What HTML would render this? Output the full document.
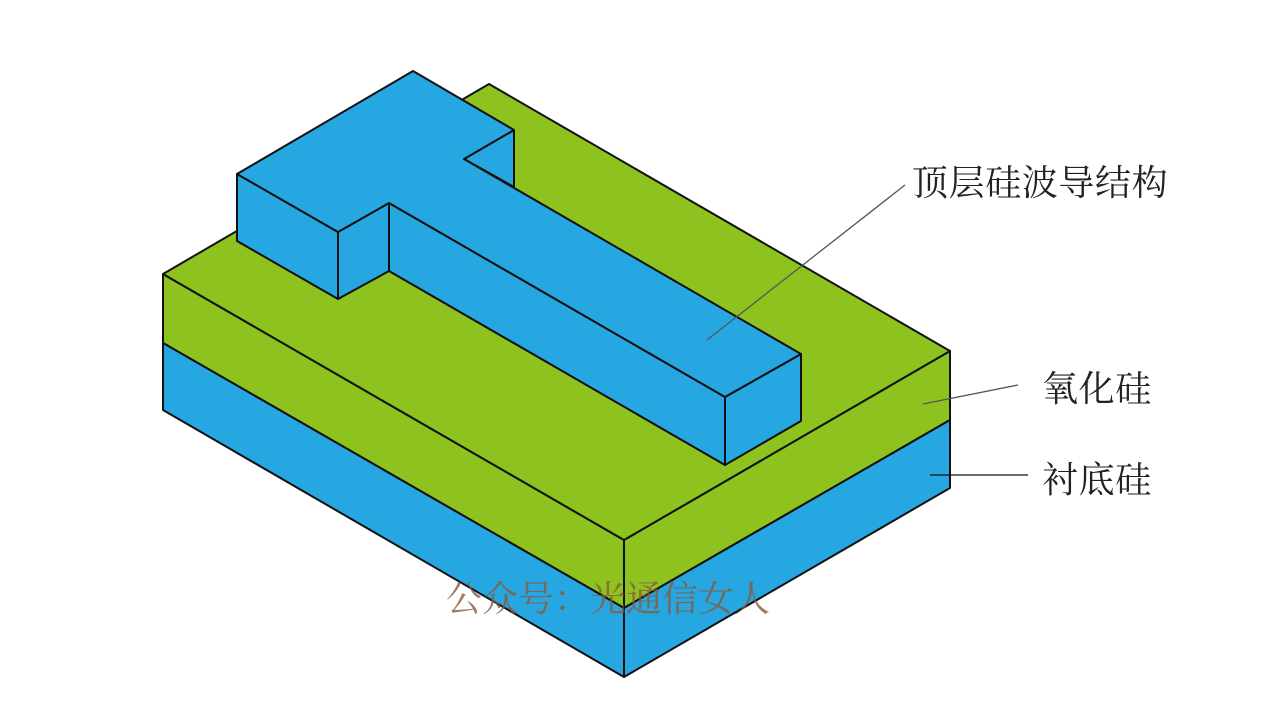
<!DOCTYPE html>
<html><head><meta charset="utf-8"><style>
html,body{margin:0;padding:0;background:#fff;}
svg{display:block;}
text{font-family:"Liberation Serif","Noto Serif CJK SC","Noto Sans CJK SC",serif;}
</style></head><body>
<svg width="1268" height="714" viewBox="0 0 1268 714" xmlns="http://www.w3.org/2000/svg">
<g stroke="#111" stroke-width="2" stroke-linejoin="round">
<polygon points="163,274 624,540 624,608 163,343" fill="#8dc21f"/>
<polygon points="163,343 624,608 624,677 163,410" fill="#27a7e1"/>
<polygon points="624,540 950,351 950,420 624,608" fill="#8dc21f"/>
<polygon points="624,608 950,420 950,488 624,677" fill="#27a7e1"/>
<polygon points="163,274 489,84 950,351 624,540" fill="#8dc21f"/>
<polygon points="464,159 514,130 514,187" fill="#27a7e1"/>
<polygon points="237,174 338,232 338,299 237,241" fill="#27a7e1"/>
<polygon points="338,232 389,203 389,271 338,299" fill="#27a7e1"/>
<polygon points="389,203 725,397 725,465 389,271" fill="#27a7e1"/>
<polygon points="725,397 801,354 801,421 725,465" fill="#27a7e1"/>
<polygon points="237,174 413,71 514,130 464,159 801,354 725,397 389,203 338,232" fill="#27a7e1"/>
</g>
<g stroke="#555" stroke-width="1.3">
<line x1="707" y1="340" x2="905" y2="185"/>
<line x1="923" y1="404" x2="1018" y2="385"/>
</g>
<line x1="930" y1="475" x2="1028" y2="475" stroke="#111" stroke-width="1.3"/>
<g font-size="36" fill="#222" letter-spacing="0.6">
<text x="912" y="195">顶层硅波导结构</text>
<text x="1042" y="401">氧化硅</text>
<text x="1042" y="492">衬底硅</text>
</g>
<text x="446" y="611" font-size="36" fill="#8a5a3a" fill-opacity="0.8">公众号：光通信女人</text>
</svg>
</body></html>
